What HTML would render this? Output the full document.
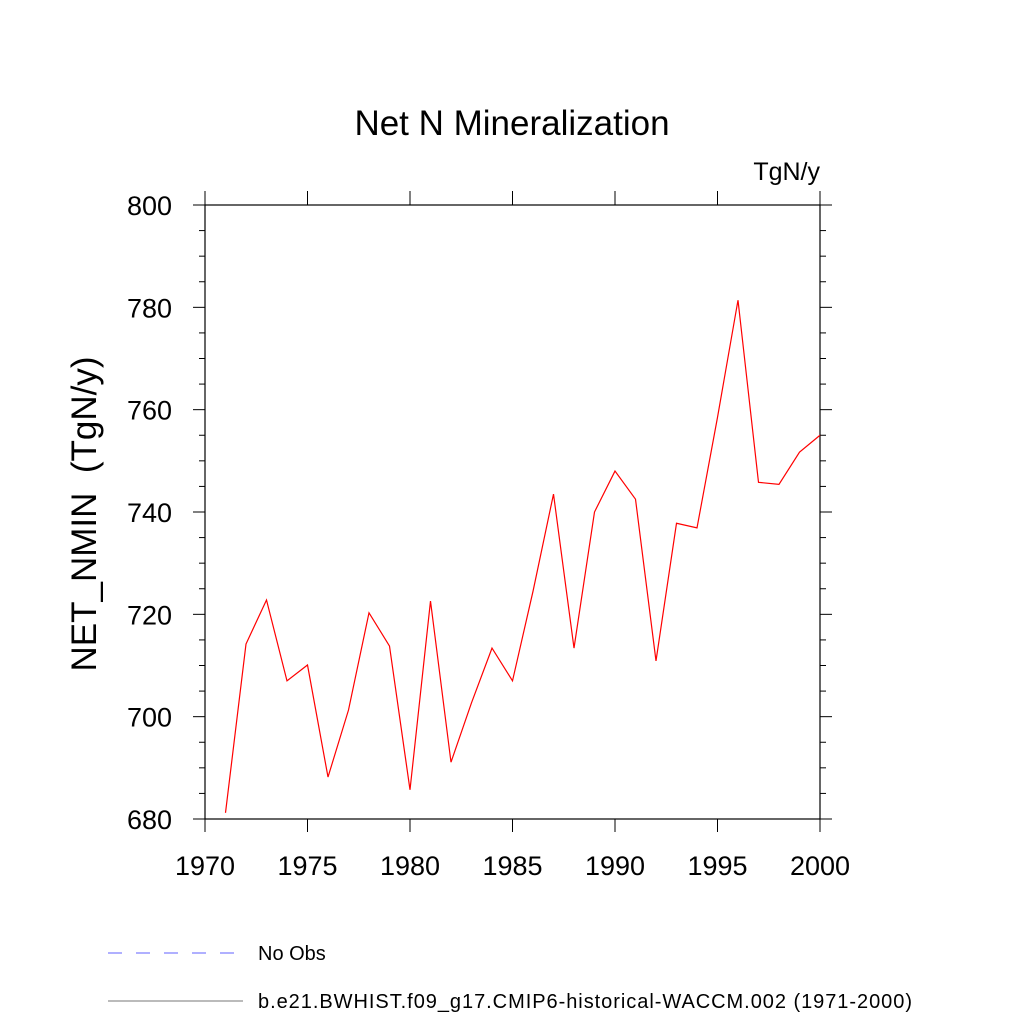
<!DOCTYPE html>
<html><head><meta charset="utf-8"><style>
body{margin:0;background:#fff;}
svg text{font-family:"Liberation Sans",sans-serif;fill:#000;}
</style></head><body>
<svg id="chart" width="1024" height="1024" xmlns="http://www.w3.org/2000/svg">
<text x="512" y="135" font-size="35" text-anchor="middle">Net N Mineralization</text>
<text x="820" y="180" font-size="25" text-anchor="end">TgN/y</text>
<text transform="translate(96,514) rotate(-90)" font-size="35" text-anchor="middle" style="white-space:pre">NET_NMIN  (TgN/y)</text>
<rect x="205" y="205" width="615" height="614" fill="none" stroke="#000" stroke-width="1.2"/>
<g id="axes"></g>
<polyline id="series" fill="none" stroke="#ff0000" stroke-width="1.2"/>
<line x1="108" y1="953" x2="243" y2="953" stroke="#6060ff" stroke-width="1" stroke-dasharray="14,14"/>
<text x="258" y="960" font-size="20">No Obs</text>
<line x1="108" y1="1001" x2="243" y2="1001" stroke="#777" stroke-width="1"/>
<text x="258" y="1008" font-size="20" textLength="654">b.e21.BWHIST.f09_g17.CMIP6-historical-WACCM.002 (1971-2000)</text>
</svg>
<script>
const years=[1971,1972,1973,1974,1975,1976,1977,1978,1979,1980,1981,1982,1983,1984,1985,1986,1987,1988,1989,1990,1991,1992,1993,1994,1995,1996,1997,1998,1999,2000];
const values=[681.2,714.2,722.8,707.0,710.1,688.2,701.3,720.3,713.8,685.7,722.6,691.1,702.7,713.4,707.0,724.5,743.5,713.4,740.0,748.0,742.5,710.9,737.8,736.9,758.5,781.4,745.8,745.4,751.7,755.0];
const xTicks=[1970,1975,1980,1985,1990,1995,2000];
const yTicks=[680,700,720,740,760,780,800];
const xMin=1970,xMax=2000,yMin=680,yMax=800;
const L=205,R=820,T=205,B=819;
function sx(v){return L+(v-xMin)/(xMax-xMin)*(R-L);}
function sy(v){return B-(v-yMin)/(yMax-yMin)*(B-T);}
const NS="http://www.w3.org/2000/svg";
const g=document.getElementById('axes');
function line(x1,y1,x2,y2,name){const l=document.createElementNS(NS,'line');
l.setAttribute('x1',x1);l.setAttribute('y1',y1);l.setAttribute('x2',x2);l.setAttribute('y2',y2);
l.setAttribute('stroke','#000');l.setAttribute('stroke-width','1');


g.appendChild(l);}
function text(x,y,s,anchor,name){const t=document.createElementNS(NS,'text');
t.setAttribute('x',x);t.setAttribute('y',y);t.setAttribute('font-size','27');t.setAttribute('text-anchor',anchor);t.textContent=s;


g.appendChild(t);}
xTicks.forEach(v=>{const x=sx(v);line(x,B,x,B+13,'x-tick');line(x,T,x,T-14,'x-tick-top');text(x,B+56,String(v),'middle','x-tick-label');});
for(let v=yMin;v<=yMax;v+=5){const y=sy(v);const maj=(v%20===0);const len=maj?12:6;
line(L-len,y,L,y,'y-tick');line(R,y,R+len,y,'y-tick-right');}
yTicks.forEach(v=>{text(L-33,sy(v)+10,String(v),'end','y-tick-label');});
document.getElementById('series').setAttribute('points',years.map((y,i)=>sx(y)+','+sy(values[i])).join(' '));
</script>
</body></html>
